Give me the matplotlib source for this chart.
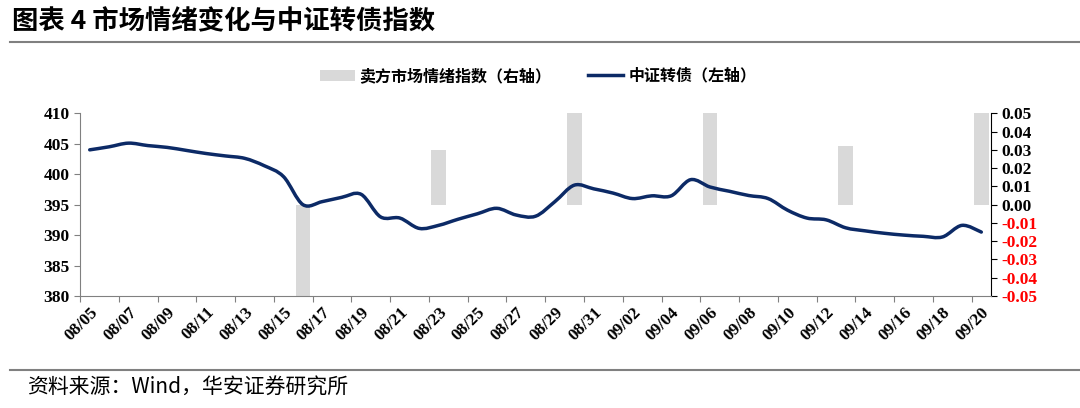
import numpy as np
import matplotlib
matplotlib.use('Agg')
import matplotlib.pyplot as plt
from matplotlib.path import Path
from matplotlib.patches import PathPatch, Patch
from matplotlib.lines import Line2D
import pandas as pd

plt.rcParams['font.family'] = ['Noto Sans CJK SC', 'DejaVu Sans']

# daily calendar, 08/05 .. 09/20
dates = pd.date_range('2024-08-05', '2024-09-20', freq='D')
date_labels = [d.strftime('%m/%d') for d in dates]

# 中证转债 (left axis)
cb_index = [404.0, 404.5, 405.1, 404.7, 404.4, 403.9, 403.4, 403.0, 402.6, 401.4,
            399.6, 395.0, 395.5, 396.2, 396.7, 393.0, 392.8, 391.1, 391.6, 392.6,
            393.5, 394.4, 393.3, 393.1, 395.5, 398.2, 397.6, 396.9, 396.0, 396.45,
            396.45, 399.1, 397.9, 397.2, 396.5, 396.0, 394.1, 392.8, 392.5, 391.2,
            390.7, 390.3, 390.0, 389.8, 389.7, 391.6, 390.5]

# 卖方市场情绪指数 (right axis), weekly on Fridays
sent_dates = ['08/16', '08/23', '08/30', '09/06', '09/13', '09/20']
sent_values = [-0.05, 0.03, 0.05, 0.05, 0.032, 0.05]

title = '图表 4 市场情绪变化与中证转债指数'
source = '资料来源：Wind，华安证券研究所'

navy = '#0c2a66'
bar_gray = '#d9d9d9'
serif = ['Liberation Serif', 'DejaVu Serif']

fig = plt.figure(figsize=(10.8, 4.08), dpi=100)
ax = fig.add_axes([0.0741, 0.2745, 0.8435, 0.4478])
ax2 = ax.twinx()
ax.set_zorder(ax2.get_zorder() + 1)
ax.patch.set_visible(False)

x = np.arange(len(date_labels))

# bars on the right axis
sx = [date_labels.index(d) for d in sent_dates]
ax2.bar(sx, sent_values, width=0.76, color=bar_gray, linewidth=0)

# smoothed line (cubic bezier through the data points)
pts = np.column_stack([x, cb_index]).astype(float)
ext = np.vstack([pts[0], pts, pts[-1]])
verts = [tuple(pts[0])]
codes = [Path.MOVETO]
for i in range(len(pts) - 1):
    p0, p1, p2, p3 = ext[i], ext[i + 1], ext[i + 2], ext[i + 3]
    c1 = p1 + (p2 - p0) / 6
    c2 = p2 - (p3 - p1) / 6
    verts += [tuple(c1), tuple(c2), tuple(p2)]
    codes += [Path.CURVE4] * 3
ax.add_patch(PathPatch(Path(verts, codes), fill=False, edgecolor=navy,
                       linewidth=2.5, capstyle='round', joinstyle='round'))

ax.set_xlim(-0.5, len(x) - 0.5)
ax.set_ylim(380, 410)
ax.set_yticks(np.arange(380, 411, 5))
ax2.set_ylim(-0.05, 0.05)
rt = np.round(np.arange(-0.05, 0.051, 0.01), 2)
ax2.set_yticks(rt)
ax2.set_yticklabels(['%.2f' % v for v in rt])
for lab, v in zip(ax2.get_yticklabels(), rt):
    lab.set_color('#ff0000' if v < 0 else 'black')

# x ticks at category boundaries, labels at centres
ax.set_xticks(np.arange(-0.5, len(x) - 0.5, 2))
ax.set_xticklabels([])
ax.set_xticks(x[::2], minor=True)
ax.set_xticklabels(date_labels[::2], minor=True, rotation=45, ha='right',
                   rotation_mode='anchor', family=serif, fontweight='bold', fontsize=12.5)
ax.tick_params(axis='x', which='minor', length=0, pad=6)
ax.tick_params(axis='x', which='major', length=4, color='#808080')
ax.tick_params(axis='y', length=4, color='#808080')
ax2.tick_params(axis='y', length=4, color='black')
for lab in ax.get_yticklabels() + ax2.get_yticklabels():
    lab.set_family(serif)
    lab.set_fontweight('bold')
    lab.set_fontsize(12.5)

for a in (ax, ax2):
    a.spines['top'].set_visible(False)
ax.spines['left'].set_color('#808080')
ax.spines['bottom'].set_color('#808080')
ax.spines['right'].set_visible(False)
ax2.spines['left'].set_visible(False)
ax2.spines['bottom'].set_visible(False)
ax2.spines['right'].set_color('black')

handles = [Patch(facecolor=bar_gray, edgecolor='none'),
           Line2D([0], [0], color=navy, linewidth=2.5)]
fig.legend(handles, ['卖方市场情绪指数（右轴）', '中证转债（左轴）'], loc='center',
           bbox_to_anchor=(0.498, 0.814), ncol=2, frameon=False, handlelength=2.2,
           columnspacing=2.3, handletextpad=0.3, prop={'size': 11.5, 'weight': 'bold'})

fig.text(0.011, 0.946, title, fontsize=19, fontweight='bold', va='center', ha='left')
fig.add_artist(Line2D([0.009, 1.0], [1 - 42 / 408] * 2, color='#808080', linewidth=1.5))
fig.add_artist(Line2D([0.009, 1.0], [1 - 370 / 408] * 2, color='#808080', linewidth=1.5))
fig.text(0.025, 1 - 388 / 408, source, fontsize=15, va='center', ha='left')

fig.savefig('out.png', dpi=100)
